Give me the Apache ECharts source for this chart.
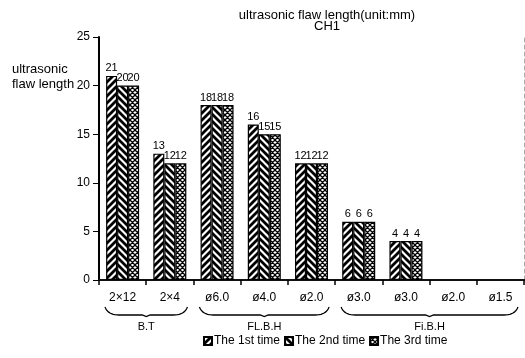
<!DOCTYPE html>
<html>
<head>
<meta charset="utf-8">
<script src="https://cdn.jsdelivr.net/npm/echarts@6/dist/echarts.min.js"></script>
<style>
  html, body { margin: 0; padding: 0; background: #fff; }
  #chart { width: 525px; height: 358px; }
</style>
</head>
<body>
<div id="chart"></div>
<script>
// Specimen labels along the x axis
var categories = ['2\u00d712', '2\u00d74', '\u00f86.0', '\u00f84.0', '\u00f82.0', '\u00f83.0', '\u00f83.0', '\u00f82.0', '\u00f81.5'];
// Measured flaw lengths (mm) per inspection run; null = no indication
var firstTime  = [21, 13, 18, 16, 12, 6, 4, null, null];
var secondTime = [20, 12, 18, 15, 12, 6, 4, null, null];
var thirdTime  = [20, 12, 18, 15, 12, 6, 4, null, null];
var seriesNames = ['The 1st time', 'The 2nd time', 'The 3rd time'];
// Reflector groups under the axis and how many categories each spans
var groupNames = ['B.T', 'FL.B.H', 'Fi.B.H'];
var groupSpans = [2, 3, 4];
var yTicks = [0, 5, 10, 15, 20, 25];

var FONT = '"Liberation Sans", Arial, sans-serif';

// Hatch fills drawn onto small canvases
function stripePattern(dir) {
  var s = 7;
  var c = document.createElement('canvas');
  c.width = s; c.height = s;
  var g = c.getContext('2d');
  g.fillStyle = '#fff';
  g.fillRect(0, 0, s, s);
  g.strokeStyle = '#000';
  g.lineWidth = 2.8;
  g.beginPath();
  for (var k = -1; k <= 1; k++) {
    if (dir === '/') {
      g.moveTo(k * s - 1, s + 1); g.lineTo(k * s + s + 1, -1);
    } else {
      g.moveTo(k * s - 1, -1); g.lineTo(k * s + s + 1, s + 1);
    }
  }
  g.stroke();
  return { image: c, repeat: 'repeat' };
}
function crossPattern() {
  var s = 5;
  var c = document.createElement('canvas');
  c.width = s; c.height = s;
  var g = c.getContext('2d');
  g.fillStyle = '#fff';
  g.fillRect(0, 0, s, s);
  g.strokeStyle = '#000';
  g.lineWidth = 1.3;
  g.beginPath();
  for (var k = -1; k <= 1; k++) {
    g.moveTo(k * s - 1, s + 1); g.lineTo(k * s + s + 1, -1);
    g.moveTo(k * s - 1, -1); g.lineTo(k * s + s + 1, s + 1);
  }
  g.stroke();
  return { image: c, repeat: 'repeat' };
}

var fills = [stripePattern('/'), stripePattern('\\'), crossPattern()];
var values = [firstTime, secondTime, thirdTime];

var chart = echarts.init(document.getElementById('chart'), null, { renderer: 'canvas' });

function barSeries(i) {
  return {
    name: seriesNames[i],
    type: 'bar',
    xAxisIndex: 0,
    yAxisIndex: 0,
    barWidth: 11,
    barGap: '0%',
    data: values[i],
    itemStyle: { color: fills[i], borderColor: '#000', borderWidth: 1.2 },
    label: {
      show: true,
      position: 'top',
      distance: 2,
      color: '#000',
      fontFamily: FONT,
      fontSize: 11
    },
    emphasis: { disabled: true },
    animation: false
  };
}

var option = {
  backgroundColor: '#fff',
  animation: false,
  title: {
    text: 'ultrasonic flaw length(unit:mm)',
    subtext: 'CH1',
    left: 327,
    top: 9,
    padding: 0,
    itemGap: -2,
    textAlign: 'center',
    textStyle: { fontFamily: FONT, fontSize: 13, fontWeight: 'normal', color: '#000' },
    subtextStyle: { fontFamily: FONT, fontSize: 13, color: '#000' }
  },
  legend: {
    data: seriesNames,
    left: 203,
    top: 335,
    itemWidth: 8,
    itemHeight: 8,
    itemGap: 4,
    padding: 0,
    icon: 'rect',
    textStyle: { fontFamily: FONT, fontSize: 12, color: '#000', padding: [0, 0, 0, -3] },
    selectedMode: false
  },
  grid: { left: 99, right: 1, top: 37, bottom: 78, containLabel: false },
  xAxis: [{
    type: 'category',
    data: categories,
    boundaryGap: true,
    axisLine: { show: true, lineStyle: { color: '#000', width: 2 } },
    axisTick: { show: true, length: 5, lineStyle: { color: '#000', width: 1.5 } },
    axisLabel: { color: '#000', fontFamily: FONT, fontSize: 12, margin: 12 },
    splitLine: { show: false }
  }, {
    type: 'category',
    data: categories,
    position: 'top',
    axisLine: { show: true, lineStyle: { color: '#111', width: 2 } },
    axisTick: { show: false },
    axisLabel: { show: false },
    splitLine: { show: false }
  }],
  yAxis: [{
    type: 'value',
    min: yTicks[0],
    max: yTicks[yTicks.length - 1],
    interval: yTicks[1] - yTicks[0],
    axisLine: { show: true, lineStyle: { color: '#000', width: 2 } },
    axisTick: { show: true, length: 6, lineStyle: { color: '#000', width: 1 } },
    axisLabel: { color: '#000', fontFamily: FONT, fontSize: 12, margin: 9 },
    splitLine: { show: false }
  }, {
    type: 'value',
    min: yTicks[0],
    max: yTicks[yTicks.length - 1],
    interval: yTicks[1] - yTicks[0],
    position: 'right',
    axisLine: { show: true, lineStyle: { color: '#aaa', width: 1, type: [4, 3] } },
    axisTick: { show: false },
    axisLabel: { show: false },
    splitLine: { show: false }
  }],
  series: [barSeries(0), barSeries(1), barSeries(2)]
};

chart.setOption(option);

// Quadratic curve sampled into points for a polyline
function quad(p0, p1, p2, n) {
  var pts = [];
  for (var i = 0; i <= n; i++) {
    var t = i / n, u = 1 - t;
    pts.push([u * u * p0[0] + 2 * u * t * p1[0] + t * t * p2[0],
              u * u * p0[1] + 2 * u * t * p1[1] + t * t * p2[1]]);
  }
  return pts;
}

// Axis title and reflector group braces below the category labels
function addAnnotations() {
  var x0 = chart.convertToPixel({ xAxisIndex: 0 }, 0);
  var x1 = chart.convertToPixel({ xAxisIndex: 0 }, 1);
  var band = x1 - x0;
  var elements = [{
    type: 'text',
    x: 12,
    y: 62,
    style: {
      text: 'ultrasonic\nflaw length',
      fill: '#000',
      font: '13px ' + FONT,
      lineHeight: 15,
      align: 'left',
      verticalAlign: 'top'
    }
  }];
  var start = 0;
  for (var i = 0; i < groupNames.length; i++) {
    var end = start + groupSpans[i] - 1;
    var left = chart.convertToPixel({ xAxisIndex: 0 }, start) - band / 2 + 6;
    var right = chart.convertToPixel({ xAxisIndex: 0 }, end) + band / 2 - 6;
    if (right > 522) right = 522;
    var mid = (left + right) / 2;
    var yTop = 307, yBot = 315;
    var pts = quad([left, yTop], [left + 3, yBot], [left + 14, yBot], 10);
    pts.push([mid - 4, yBot], [mid, yBot + 1.5], [mid + 4, yBot]);
    pts = pts.concat(quad([right - 14, yBot], [right - 3, yBot], [right, yTop], 10));
    elements.push({
      type: 'polyline',
      shape: { points: pts },
      style: { stroke: '#000', lineWidth: 1.3, fill: null }
    });
    elements.push({
      type: 'text',
      x: mid,
      y: 327,
      style: {
        text: groupNames[i],
        fill: '#000',
        font: '11px ' + FONT,
        align: 'center',
        verticalAlign: 'middle'
      }
    });
    start = end + 1;
  }
  chart.setOption({ graphic: { elements: elements } });
}
addAnnotations();
</script>
</body>
</html>
